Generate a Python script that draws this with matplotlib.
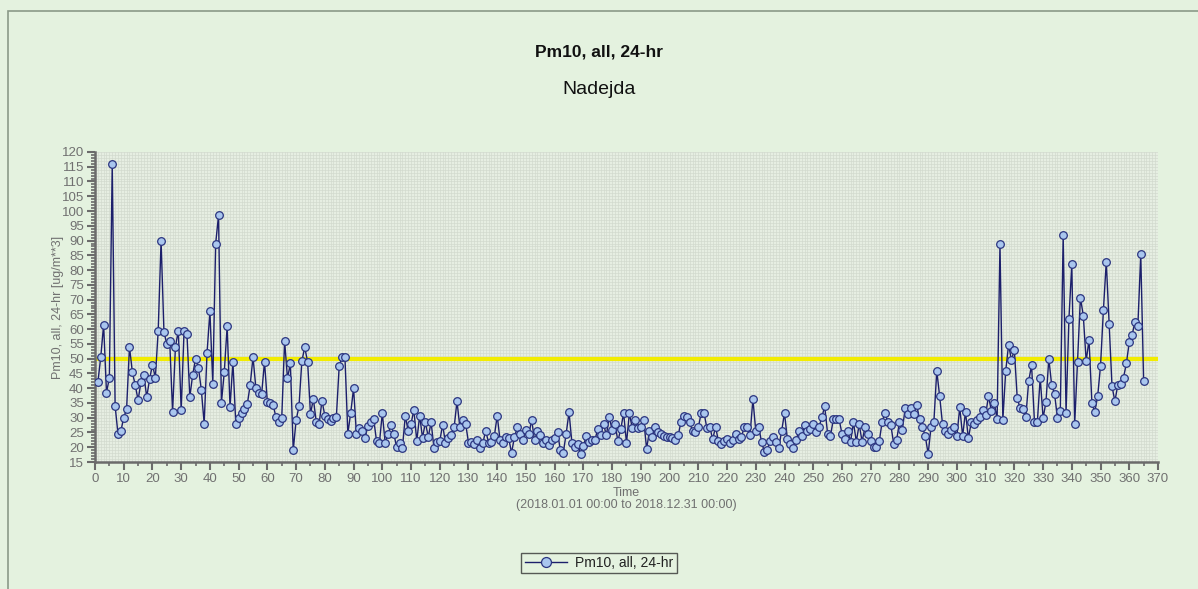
import matplotlib
matplotlib.use("Agg")
import matplotlib.pyplot as plt
from matplotlib.ticker import MultipleLocator
from matplotlib.patches import Rectangle

plt.rcParams['font.family'] = ['Liberation Sans', 'DejaVu Sans']

# daily Pm10 24-hr averages, day 1..365
pm10 = [
    42, 50.5, 61.5, 38.5, 43.5, 116, 34, 24.5, 25.5, 30,
    33, 54, 45.5, 41, 36, 42, 44.5, 37, 43, 48,
    43.5, 59.5, 90, 59, 55, 56, 32, 54, 59.5, 32.5,
    59.5, 58.5, 37, 44.5, 50, 47, 39.5, 28, 52, 66,
    41.5, 89, 98.5, 35, 45.5, 61, 33.5, 49, 28, 30,
    31.5, 33, 34.5, 41, 50.5, 40, 38.5, 38, 49, 35.2,
    34.9, 34.4, 30.1, 28.7, 29.9, 56, 43.3, 48.4, 18.9, 29.2,
    33.8, 49.2, 53.8, 49, 31.2, 36.4, 28.7, 27.8, 35.8, 30.7,
    29.5, 29, 29.9, 30.1, 47.5, 50.5, 50.5, 24.6, 31.6, 40,
    24.4, 26.4, 25.5, 23.2, 27.2, 28.4, 29.5, 22.1, 21.4, 31.6,
    21.5, 24.4, 27.5, 24.6, 20, 21.5, 19.6, 30.7, 25.5, 28,
    32.6, 22.1, 30.7, 23.2, 28.4, 23.5, 28.4, 19.6, 21.9, 22.1,
    27.6, 21.4, 23.2, 24.1, 26.7, 35.6, 26.7, 29.2, 28, 21.6,
    21.9, 21, 22.5, 19.6, 21.5, 25.5, 21.6, 21.9, 23.8, 30.7,
    22.3, 21.5, 23.5, 23, 18.1, 23.5, 26.7, 24.6, 22.4, 25.8,
    24.4, 29.2, 22.3, 25.5, 24.1, 21.5, 22.3, 20.7, 22.3, 23.2,
    25, 18.9, 18.1, 24.6, 31.9, 21.5, 20, 21.2, 17.7, 20.4,
    23.8, 21.7, 22.3, 22.5, 26.1, 24.1, 27.8, 24.1, 30.3, 25.8,
    28, 22.1, 26.1, 31.6, 21.4, 31.6, 26.4, 29.2, 26.4, 26.9,
    29.2, 19.5, 25.5, 23.5, 26.7, 25, 24.4, 23.8, 23.5, 23.5,
    23.2, 22.3, 24.1, 28.7, 30.6, 30.1, 28.4, 25.5, 25.2, 26.7,
    31.6, 31.6, 26.4, 26.9, 22.7, 26.9, 22.1, 21, 22.1, 22.7,
    21.5, 22.3, 24.4, 22.9, 23.5, 26.9, 26.7, 24.1, 36.3, 25.5,
    26.9, 21.9, 18.4, 19.2, 22.1, 23.5, 21.9, 19.8, 25.5, 31.6,
    22.7, 21, 19.8, 22.3, 25.5, 23.8, 27.6, 25.5, 26.1, 28,
    25.3, 26.7, 30.3, 33.8, 24.6, 23.8, 29.5, 29.5, 29.5, 24.6,
    22.7, 25.5, 21.9, 28.4, 21.9, 27.8, 21.9, 26.7, 24.6, 22.1,
    20, 20, 22.1, 28.7, 31.6, 28.4, 27.6, 21.2, 22.3, 28.4,
    25.8, 33.2, 31.2, 33.2, 31.2, 34.4, 29.5, 26.9, 23.8, 17.7,
    26.9, 28.7, 45.9, 37.3, 27.8, 25.5, 24.6, 25.8, 26.7, 23.8,
    33.5, 23.8, 32, 23, 28.4, 27.8, 29.2, 30.1, 32.7, 31,
    37.3, 32.4, 35, 29.5, 88.7, 29.2, 45.9, 54.7, 49.5, 53,
    36.7, 33.2, 33, 30.3, 42.5, 47.8, 28.7, 28.4, 43.6, 29.9,
    35.2, 50, 41, 38.1, 29.9, 32.4, 91.9, 31.6, 63.5, 81.9,
    27.8, 49, 70.7, 64.6, 49.2, 56.4, 34.9, 32, 37.2, 47.6,
    66.4, 82.9, 61.6, 40.6, 35.6, 41, 41.5, 43.6, 48.4, 55.6,
    58.1, 62.5, 61.2, 85.3, 42.3,
]
days = list(range(1, len(pm10) + 1))
limit_value = 50
title = "Pm10, all, 24-hr"
station = "Nadejda"

bg = '#e4f2df'
axis_grey = '#6b6b6b'
text_grey = '#707070'

fig = plt.figure(figsize=(11.98, 5.89), dpi=100, facecolor=bg)
fig.patches.append(Rectangle((8 / 1198, -0.1), 1.2, 1 - 11 / 589 + 0.1,
                             transform=fig.transFigure, fill=False,
                             edgecolor='#8a9a88', linewidth=1.2))

ax = fig.add_axes([0.0793, 0.2156, 0.8873, 0.5264])
ax.set_facecolor('#e6eee2')

# dense 1-unit grid
ax.xaxis.set_major_locator(MultipleLocator(10))
ax.xaxis.set_minor_locator(MultipleLocator(5))
ax.yaxis.set_major_locator(MultipleLocator(5))
ax.yaxis.set_minor_locator(MultipleLocator(1))
for gx in range(0, 371):
    ax.axvline(gx, color='#d2dace', linewidth=0.5, zorder=0)
for gy in range(15, 121):
    ax.axhline(gy, color='#d2dace', linewidth=0.5, zorder=0)

ax.plot([0, 370], [limit_value, limit_value], color='#f2ec00',
        linewidth=3, zorder=2, solid_capstyle='butt')
ax.plot(days, pm10, color='#1c1f6b', linewidth=1.0, marker='o',
        markersize=5.5, markerfacecolor='#a9c6ee', markeredgecolor='#2b3580',
        markeredgewidth=0.9, zorder=3, label=title)

ax.set_xlim(0, 370)
ax.set_ylim(15, 120)

for s in ['top', 'right']:
    ax.spines[s].set_visible(False)
for s in ['left', 'bottom']:
    ax.spines[s].set_color(axis_grey)
    ax.spines[s].set_linewidth(1.8)

ax.tick_params(axis='both', which='major', direction='out', length=6,
               width=1.5, color=axis_grey, labelcolor=text_grey, labelsize=9.5,
               pad=2)
ax.tick_params(axis='both', which='minor', direction='out', length=3,
               width=1.2, color=axis_grey)

ax.set_xlabel("Time\n(2018.01.01 00:00 to 2018.12.31 00:00)", color=text_grey,
              fontsize=9, labelpad=1, linespacing=1.0)
ax.set_ylabel("Pm10, all, 24-hr [ug/m**3]", color=text_grey, fontsize=9)
ax.yaxis.set_label_coords(-0.029, 0.5)

fig.text(0.5, 1 - 52 / 589, title, ha='center', va='center',
         fontsize=12.5, fontweight='bold', color='#111111')
fig.text(0.5, 1 - 90 / 589, station, ha='center', va='center',
         fontsize=14, color='#111111')

leg = fig.legend(loc='center', bbox_to_anchor=(0.5, 1 - 563 / 589),
                 frameon=True, fancybox=False, fontsize=10, handlelength=3,
                 borderpad=0.25, handletextpad=0.6, markerscale=1.3)
leg.get_frame().set_edgecolor('#333333')
leg.get_frame().set_linewidth(1.0)
leg.get_frame().set_facecolor(bg)
for t in leg.get_texts():
    t.set_color('#222222')

fig.savefig("out.png", dpi=100, facecolor=bg)
